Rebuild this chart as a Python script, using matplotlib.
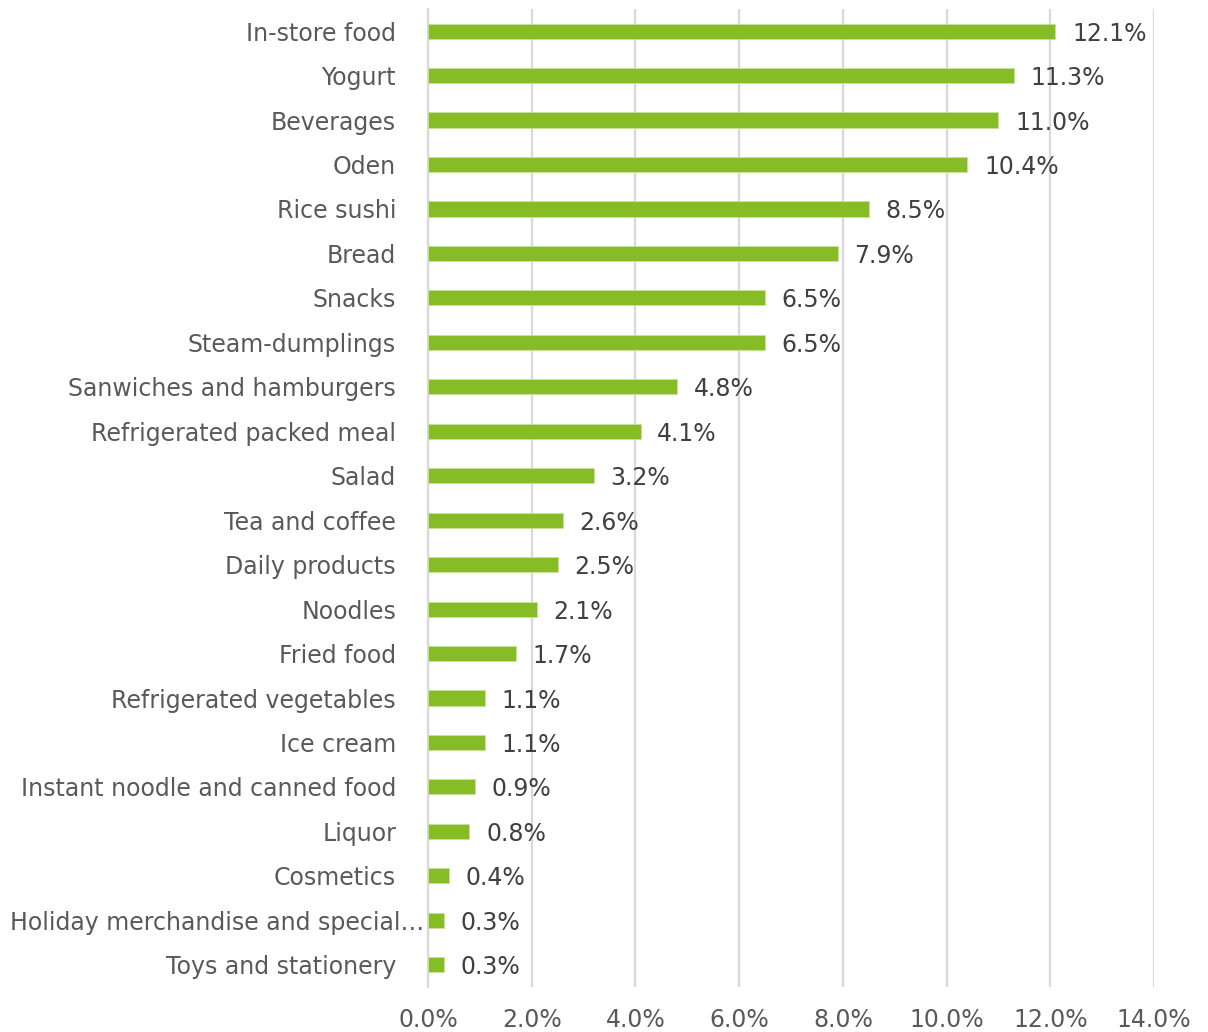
import matplotlib
matplotlib.use("Agg")
from matplotlib import pyplot as plt
from matplotlib.ticker import FuncFormatter
import numpy as np

categories = [
    "In-store food", "Yogurt", "Beverages", "Oden", "Rice sushi", "Bread",
    "Snacks", "Steam-dumplings", "Sanwiches and hamburgers",
    "Refrigerated packed meal", "Salad", "Tea and coffee", "Daily products",
    "Noodles", "Fried food", "Refrigerated vegetables", "Ice cream",
    "Instant noodle and canned food", "Liquor", "Cosmetics",
    "Holiday merchandise and special\u2026", "Toys and stationery",
]
shares = [12.1, 11.3, 11.0, 10.4, 8.5, 7.9, 6.5, 6.5, 4.8, 4.1, 3.2, 2.6,
          2.5, 2.1, 1.7, 1.1, 1.1, 0.9, 0.8, 0.4, 0.3, 0.3]
xticks = [0, 2, 4, 6, 8, 10, 12, 14]

green = "#86BC25"
grid_grey = "#D9D9D9"
label_grey = "#595959"
value_grey = "#404040"
fs = 17

plt.rcParams["font.family"] = "DejaVu Sans"

fig = plt.figure(figsize=(12.08, 10.32), dpi=100)
ax = fig.add_axes([0.3543, 0.0436, 0.601, 0.9478])

y = np.arange(len(categories))
ax.barh(y, shares, height=0.34, color=green, edgecolor="#C9E29A", linewidth=0.6, zorder=3)

ax.set_xlim(0, 14)
ax.set_ylim(len(categories) - 0.5, -0.5)
ax.set_xticks(xticks)
ax.xaxis.set_major_formatter(FuncFormatter(lambda v, p: f"{v:.1f}%"))
ax.tick_params(axis="x", length=0, pad=15, labelsize=fs, labelcolor=label_grey)
ax.set_yticks([])
ax.grid(axis="x", color=grid_grey, linewidth=1.6, zorder=0)

for s in ["top", "right", "bottom"]:
    ax.spines[s].set_visible(False)
ax.spines["left"].set_color(grid_grey)
ax.spines["left"].set_linewidth(1.6)

# category names; the truncated one sits closer to the axis
for i, name in enumerate(categories):
    off = -3 if name.endswith("\u2026") else -23
    ax.annotate(name, xy=(0, i), xycoords=ax.get_yaxis_transform(),
                xytext=(off, 0), textcoords="offset points",
                ha="right", va="center_baseline", fontsize=fs, color=label_grey)

for i, v in enumerate(shares):
    ax.annotate(f"{v:.1f}%", xy=(v, i), xytext=(12, 0), textcoords="offset points",
                ha="left", va="center_baseline", fontsize=fs, color=value_grey)

fig.savefig("out.png", dpi=100)
